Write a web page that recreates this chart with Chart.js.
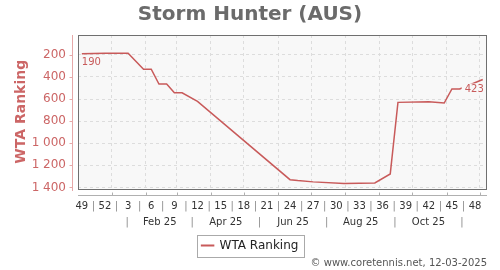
<!DOCTYPE html>
<html>
<head>
<meta charset="utf-8">
<script src="https://cdn.jsdelivr.net/npm/chart.js@4.4.0/dist/chart.umd.min.js"></script>
<style>
  html, body { margin: 0; padding: 0; background: #fff; }
</style>
</head>
<body>
<canvas id="myChart" width="500" height="270"></canvas>
<script>
// week index 0 = week 49 of 2024
const weeks = [0, 3, 6, 8, 9, 10, 11, 12, 13, 15, 27, 28, 30, 34, 38, 40, 41, 45, 47, 48, 49, 52];
const ranking = [190, 186, 186, 330, 330, 464, 464, 543, 543, 621, 1330, 1338, 1350, 1365, 1360, 1278, 630, 624, 636, 509, 509, 423];

const weekTickPos = [0, 3, 6, 9, 12, 15, 18, 21, 24, 27, 30, 33, 36, 39, 42, 45, 48, 51];
const weekTickLabels = ['49', '52', '3', '6', '9', '12', '15', '18', '21', '24', '27', '30', '33', '36', '39', '42', '45', '48'];
const monthGridPos = [3.886, 8.314, 12.314, 16.743, 21.029, 25.457, 29.743, 34.171, 38.6, 42.886, 47.314, 51.6];
const monthSepPos = [5.89, 14.31, 23.03, 31.74, 40.6, 49.31];
const monthLabels = ['Feb 25', 'Apr 25', 'Jun 25', 'Aug 25', 'Oct 25'];
const yTicks = [200, 400, 600, 800, 1000, 1200, 1400];

const lineColor = '#c85a5a';
const labelColor = '#cc6666';

const decor = {
  id: 'decor',
  beforeDraw(chart) {
    const {ctx, chartArea: a} = chart;
    ctx.save();
    ctx.fillStyle = '#f8f8f8';
    ctx.fillRect(a.left, a.top, a.right - a.left, a.bottom - a.top);
    ctx.restore();
  },
  afterDatasetsDraw(chart) {
    const {ctx, scales} = chart;
    ctx.save();
    ctx.font = '10px "DejaVu Sans"';
    ctx.textBaseline = 'middle';
    // first value
    let px = scales.x.getPixelForValue(weeks[0]);
    let py = scales.y.getPixelForValue(ranking[0]);
    ctx.fillStyle = lineColor;
    ctx.textAlign = 'left';
    ctx.fillText(String(ranking[0]), px, py + 9);
    // last value
    const n = weeks.length - 1;
    px = scales.x.getPixelForValue(weeks[n]);
    py = scales.y.getPixelForValue(ranking[n]);
    const txt = String(ranking[n]);
    const w = ctx.measureText(txt).width;
    ctx.fillStyle = '#f8f8f8';
    ctx.fillRect(px - w - 2, py + 4, w + 3, 12);
    ctx.fillStyle = lineColor;
    ctx.textAlign = 'right';
    ctx.fillText(txt, px + 1, py + 10);
    ctx.restore();
  },
  afterDraw(chart) {
    const {ctx, chartArea: a, scales} = chart;
    const L = Math.round(a.left), R = Math.round(a.right);
    const T = Math.round(a.top), B = Math.round(a.bottom);
    ctx.save();
    ctx.lineWidth = 1;
    // plot frame
    ctx.strokeStyle = '#6f6f6f';
    ctx.strokeRect(L + 0.5, T + 0.5, R - L - 1, B - T);
    // x axis line + ticks
    const yb = B + 6.5;
    ctx.strokeStyle = '#b0b0b0';
    ctx.beginPath();
    ctx.moveTo(L, yb);
    ctx.lineTo(R, yb);
    monthGridPos.forEach(v => {
      const x = Math.round(scales.x.getPixelForValue(v)) + 0.5;
      ctx.moveTo(x, yb);
      ctx.lineTo(x, yb - 3);
    });
    ctx.stroke();
    // y axis line + ticks
    const xl = L - 5.5;
    ctx.strokeStyle = '#e6a8a8';
    ctx.beginPath();
    ctx.moveTo(xl, T);
    ctx.lineTo(xl, B + 2);
    yTicks.forEach(v => {
      const y = Math.round(scales.y.getPixelForValue(v)) + 0.5;
      ctx.moveTo(xl - 3, y);
      ctx.lineTo(xl, y);
    });
    ctx.stroke();
    // legend border
    const hb = chart.legend.legendHitBoxes[0];
    if (hb) {
      ctx.strokeStyle = '#aaaaaa';
      ctx.strokeRect(Math.round(hb.left - 5) + 0.5, Math.round(hb.top - 5) + 0.5, Math.round(hb.width + 10), Math.round(hb.height + 10));
    }
    ctx.restore();
  }
};

const data = {
  datasets: [{
    label: 'WTA Ranking',
    data: weeks.map((w, i) => ({x: w, y: ranking[i]})),
    borderColor: lineColor,
    backgroundColor: lineColor,
    borderWidth: 1.5,
    pointRadius: 0,
    tension: 0,
    xAxisID: 'x',
    yAxisID: 'y',
  }]
};

const config = {
  type: 'line',
  data: data,
  options: {
    responsive: false,
    animation: false,
    layout: { padding: { left: 13, right: 13, top: 0, bottom: 0.5 } },
    scales: {
      xg: {
        type: 'linear', position: 'bottom', weight: 0,
        min: -0.5, max: 52.55,
        afterBuildTicks: s => { s.ticks = monthGridPos.map(v => ({value: v})); },
        afterFit: s => { s.height = 0; },
        ticks: { display: false },
        grid: { color: '#dddddd', lineWidth: 1, drawTicks: false, borderDash: [3, 3] },
        border: { display: false, dash: [3, 3] },
      },
      x: {
        type: 'linear', position: 'bottom', weight: 1,
        min: -0.5, max: 52.55,
        afterBuildTicks: s => {
          const t = weekTickPos.map(v => ({value: v}));
          for (let i = 0; i < weekTickPos.length - 1; i++) t.push({value: weekTickPos[i] + 1.5});
          t.sort((p, q) => p.value - q.value);
          s.ticks = t;
        },
        afterFit: s => { s.height = 24; },
        grid: { display: false },
        border: { display: false },
        ticks: {
          autoSkip: false, maxRotation: 0, minRotation: 0, padding: 4,
          font: { family: 'DejaVu Sans', size: 10 },
          color: c => (c.tick && c.tick.label === '|') ? '#8a8a8a' : '#333333',
          callback: v => {
            const i = weekTickPos.indexOf(v);
            return i >= 0 ? weekTickLabels[i] : '|';
          }
        }
      },
      xm: {
        type: 'linear', position: 'bottom', weight: 2,
        min: -0.5, max: 52.55,
        afterBuildTicks: s => {
          const t = monthSepPos.map(v => ({value: v}));
          for (let i = 0; i < monthLabels.length; i++) t.push({value: (monthSepPos[i] + monthSepPos[i + 1]) / 2});
          t.sort((p, q) => p.value - q.value);
          s.ticks = t;
        },
        afterFit: s => { s.height = 19; },
        grid: { display: false },
        border: { display: false },
        ticks: {
          autoSkip: false, maxRotation: 0, minRotation: 0, padding: -4,
          font: { family: 'DejaVu Sans', size: 10 },
          color: c => (c.tick && c.tick.label === '|') ? '#8a8a8a' : '#333333',
          callback: v => {
            const i = monthSepPos.indexOf(v);
            if (i >= 0) return '|';
            const k = monthSepPos.findIndex(p => p > v) - 1;
            return monthLabels[k];
          }
        }
      },
      y: {
        type: 'linear', position: 'left', reverse: true,
        min: 20, max: 1410,
        afterBuildTicks: s => { s.ticks = yTicks.map(v => ({value: v})); },
        afterFit: s => { s.width = 65; },
        grid: { color: '#dddddd', lineWidth: 1, drawTicks: false, borderDash: [3, 3] },
        border: { display: false, dash: [3, 3] },
        ticks: {
          padding: 12,
          font: { family: 'DejaVu Sans', size: 12 },
          color: labelColor,
          callback: v => String(v).replace(/\B(?=(\d{3})+(?!\d))/g, ' ')
        },
        title: {
          display: true, text: 'WTA Ranking', color: labelColor,
          font: { family: 'DejaVu Sans', size: 14, weight: 'bold' },
          padding: 0
        }
      }
    },
    plugins: {
      title: {
        display: true, text: 'Storm Hunter (AUS)', color: '#6b6b6b',
        font: { family: 'DejaVu Sans', size: 20, weight: 'bold' },
        padding: { top: 3, bottom: 8 }
      },
      subtitle: {
        display: true, text: '© www.coretennis.net, 12-03-2025', color: '#555555',
        position: 'bottom', align: 'end',
        font: { family: 'DejaVu Sans', size: 10, weight: 'normal' },
        padding: { top: -4, bottom: 0 }
      },
      legend: {
        position: 'bottom',
        labels: {
          boxWidth: 12, boxHeight: 0.5, padding: 8,
          color: '#222222',
          font: { family: 'DejaVu Sans', size: 12 }
        }
      },
      tooltip: { enabled: false }
    }
  },
  plugins: [decor]
};

const myChart = new Chart(document.getElementById('myChart'), config);
</script>
</body>
</html>
